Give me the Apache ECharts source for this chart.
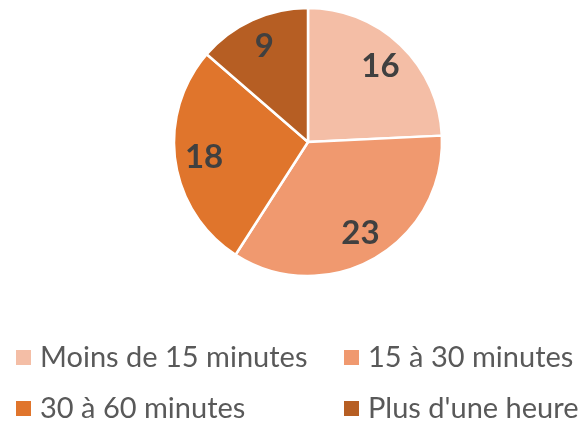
<!DOCTYPE html>
<html>
<head>
<meta charset="utf-8">
<script src="https://cdn.jsdelivr.net/npm/echarts@6/dist/echarts.min.js"></script>
<style>
	html, body { margin: 0; padding: 0; background: #fff; }
	#chart { width: 582px; height: 423px; }
</style>
</head>
<body>
<div id="chart"></div>
<script>
	var categories = ['Moins de 15 minutes', '15 à 30 minutes', '30 à 60 minutes', "Plus d'une heure"];
	var values = [16, 23, 18, 9];
	var colors = ['#f4bea6', '#f0996f', '#e0752c', '#b65e23'];

	var pieData = categories.map(function(name, i) {
		return { name: name, value: values[i], itemStyle: { color: colors[i] } };
	});
	var labelData = categories.map(function(name, i) {
		return { name: name, value: values[i] };
	});

	// one legend per item so the two columns line up
	var legendPos = [
		{ left: 14, top: 343 },
		{ left: 342, top: 343 },
		{ left: 14, top: 394 },
		{ left: 342, top: 394 }
	];
	var legends = categories.map(function(name, i) {
		return {
			data: [name],
			left: legendPos[i].left,
			top: legendPos[i].top,
			padding: 0,
			orient: 'horizontal',
			itemWidth: 17,
			itemHeight: 17,
			icon: 'rect',
			selectedMode: false,
			textStyle: {
				fontFamily: 'Lato',
				fontSize: 29,
				color: '#595959',
				padding: [0, 0, 0, 3]
			}
		};
	});

	var option = {
		animation: false,
		legend: legends,
		series: [{
			name: 'slices',
			type: 'pie',
			center: [308, 142],
			radius: [0, 134],
			startAngle: 90,
			clockwise: true,
			silent: true,
			label: { show: false },
			labelLine: { show: false },
			itemStyle: {
				borderColor: '#fff',
				borderWidth: 2.5
			},
			data: pieData
		}, {
			name: 'labels',
			type: 'pie',
			center: [308, 142],
			radius: [70, 134],
			startAngle: 90,
			clockwise: true,
			silent: true,
			legendHoverLink: false,
			itemStyle: { color: 'transparent' },
			label: {
				show: true,
				position: 'inside',
				formatter: '{c}',
				fontFamily: 'Lato',
				fontWeight: 'bold',
				fontSize: 33,
				color: '#404040'
			},
			labelLine: { show: false },
			data: labelData
		}]
	};

	var chart = echarts.init(document.getElementById('chart'));
	chart.setOption(option);
</script>
</body>
</html>
